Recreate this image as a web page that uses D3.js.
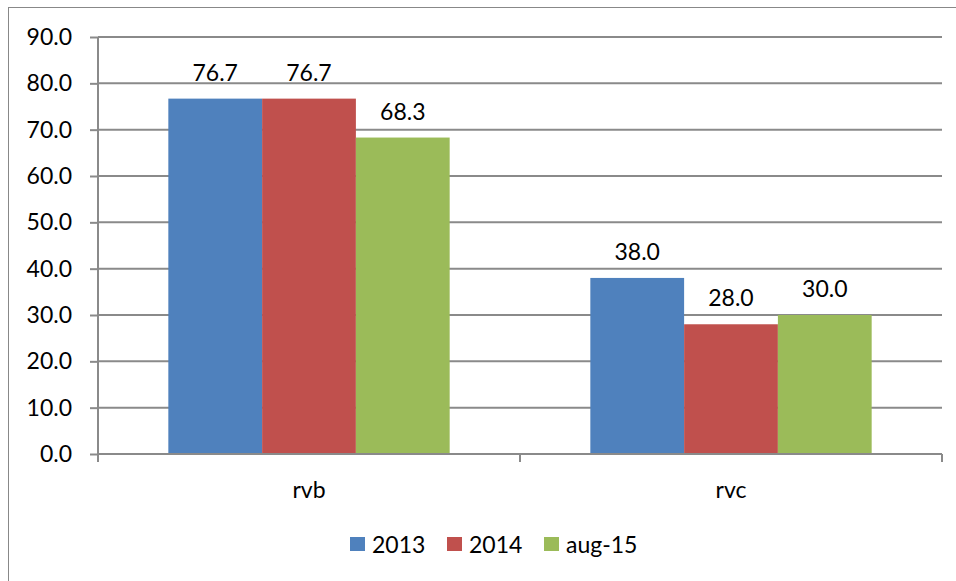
<!DOCTYPE html>
<html>
<head>
<meta charset="utf-8">
<script src="https://cdn.jsdelivr.net/npm/d3@7"></script>
<style>
  body { margin: 0; background: #fff; }
  text { font-family: Lato, "Open Sans", sans-serif; fill: #000; }
</style>
</head>
<body>
<div id="chart"></div>
<script>
var categories = ["rvb", "rvc"];
var seriesNames = ["2013", "2014", "aug-15"];
var seriesColors = ["#4F81BD", "#C0504D", "#9BBB59"];
var values2013 = [76.7, 38.0];
var values2014 = [76.7, 28.0];
var valuesAug15 = [68.3, 30.0];
var yTicks = [0, 10, 20, 30, 40, 50, 60, 70, 80, 90];

var width = 956, height = 581;
var margin = {top: 37, left: 98, right: 14, bottom: 127};
var fontSize = "23px";

var svg = d3.select("#chart").append("svg")
    .attr("width", width)
    .attr("height", height);

// outer chart frame (only top & left end up visible)
svg.append("rect")
    .attr("x", 8.5).attr("y", 7.5)
    .attr("width", 960).attr("height", 600)
    .attr("fill", "none")
    .attr("stroke", "#888")
    .attr("stroke-width", 1);

var x = d3.scaleBand()
    .domain(categories)
    .range([margin.left, width - margin.right]);

var x1 = d3.scaleBand()
    .domain(seriesNames)
    .range([0, x.bandwidth()])
    .paddingOuter(0.75);

var y = d3.scaleLinear()
    .domain([0, 90])
    .range([height - margin.bottom, margin.top]);

var data = categories.map(function(c, i) {
  return {
    cat: c,
    vals: [values2013[i], values2014[i], valuesAug15[i]].map(function(v, j) {
      return {name: seriesNames[j], value: v, color: seriesColors[j]};
    })
  };
});

// gridlines + y ticks
var yAxis = svg.append("g")
    .attr("transform", "translate(" + margin.left + ",0)")
    .call(d3.axisLeft(y).tickValues(yTicks).tickSize(8).tickFormat(d3.format(".1f")));
yAxis.select(".domain").remove();
yAxis.selectAll(".tick line").attr("stroke", "#8a8a8a").attr("stroke-width", 2);
yAxis.selectAll(".tick text")
    .attr("x", -26)
    .style("font-size", fontSize);

svg.append("g").selectAll("line")
    .data(yTicks)
    .enter().append("line")
    .attr("x1", margin.left)
    .attr("x2", width - margin.right)
    .attr("y1", function(d) { return y(d); })
    .attr("y2", function(d) { return y(d); })
    .attr("stroke", "#8a8a8a")
    .attr("stroke-width", 2);

// bars
var group = svg.append("g").selectAll(".cat")
    .data(data)
    .enter().append("g")
    .attr("class", "cat")
    .attr("transform", function(d) { return "translate(" + x(d.cat) + ",0)"; });

group.selectAll("rect")
    .data(function(d) { return d.vals; })
    .enter().append("rect")
    .attr("x", function(d) { return x1(d.name); })
    .attr("width", x1.bandwidth())
    .attr("y", function(d) { return y(d.value); })
    .attr("height", function(d) { return y(0) - y(d.value); })
    .attr("fill", function(d) { return d.color; });

group.selectAll(".lbl")
    .data(function(d) { return d.vals; })
    .enter().append("text")
    .attr("class", "lbl")
    .attr("x", function(d) { return x1(d.name) + x1.bandwidth() / 2; })
    .attr("y", function(d) { return y(d.value) - 18; })
    .attr("text-anchor", "middle")
    .style("font-size", fontSize)
    .text(function(d) { return d3.format(".1f")(d.value); });

// y axis line
svg.append("line")
    .attr("x1", margin.left).attr("x2", margin.left)
    .attr("y1", y(90)).attr("y2", y(0) + 8)
    .attr("stroke", "#8a8a8a").attr("stroke-width", 2);

// x axis
var xAxis = svg.append("g")
    .attr("transform", "translate(0," + y(0) + ")");
xAxis.append("line")
    .attr("x1", margin.left).attr("x2", width - margin.right)
    .attr("stroke", "#8a8a8a").attr("stroke-width", 2);
xAxis.selectAll(".xt")
    .data(categories.map(function(c) { return x(c); }).concat([x.range()[1]]))
    .enter().append("line")
    .attr("x1", function(d) { return d; })
    .attr("x2", function(d) { return d; })
    .attr("y1", 0).attr("y2", 8)
    .attr("stroke", "#8a8a8a").attr("stroke-width", 2);
xAxis.selectAll(".xl")
    .data(categories)
    .enter().append("text")
    .attr("x", function(d) { return x(d) + x.bandwidth() / 2; })
    .attr("y", 44)
    .attr("text-anchor", "middle")
    .style("font-size", fontSize)
    .text(function(d) { return d; });

// legend
var legendX = [350, 447, 544];
var legend = svg.append("g").selectAll(".leg")
    .data(seriesNames)
    .enter().append("g")
    .attr("transform", function(d, i) { return "translate(" + legendX[i] + ",537)"; });
legend.append("rect")
    .attr("width", 15).attr("height", 14)
    .attr("fill", function(d, i) { return seriesColors[i]; });
legend.append("text")
    .attr("x", 22).attr("y", 16)
    .style("font-size", fontSize)
    .text(function(d) { return d; });
</script>
</body>
</html>
